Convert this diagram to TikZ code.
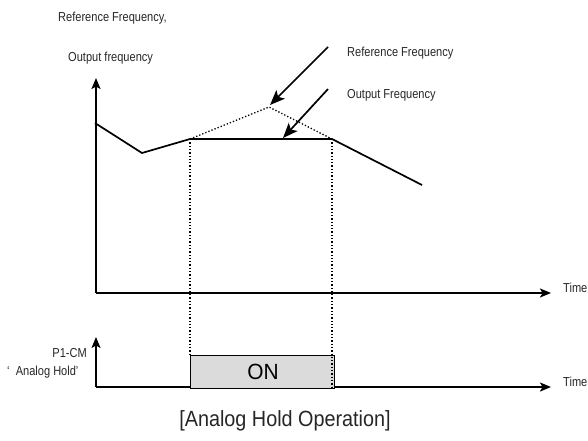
\documentclass[tikz,border=0pt]{standalone}
\usepackage{fontspec}
\setmainfont[FakeStretch=0.85]{Liberation Sans}
\newfontfamily\capfont[FakeStretch=0.9]{Liberation Sans}
\newfontfamily\onfont[FakeStretch=0.95]{Liberation Sans}
\usetikzlibrary{arrows.meta}
\begin{document}
\begin{tikzpicture}[x=1pt,y=-1pt,
  axis/.style={line width=1.7pt,-{Stealth[length=11pt,width=9pt,inset=2.5pt]}},
  curve/.style={line width=1.7pt,line join=miter},
  guide/.style={line width=1.3pt,dotted},
  pointer/.style={line width=1.7pt,-{Stealth[length=15pt,width=12pt,inset=3.5pt]}},
  lbl/.style={inner sep=0pt,font=\fontsize{13}{15}\selectfont,text=black!85},
  onbox/.style={draw=black,line width=1.2pt,fill=black!14}
]
\useasboundingbox (0,0) rectangle (588,440);

% top chart
\coordinate (o1) at (96,293);
\coordinate (ytop) at (96,78);
\coordinate (xend) at (551,293);
\draw[axis] (o1) -- (ytop);
\draw[axis] (o1) -- (xend);

\coordinate (c0) at (95,123);
\coordinate (c1) at (142,153);
\coordinate (c2) at (190,139);
\coordinate (c3) at (332,139);
\coordinate (c4) at (422,185);
\coordinate (pk) at (269,107);
\draw[guide] (c2) -- (pk) -- (c3);
\draw[curve] (c0) -- (c1) -- (c2) -- (c3) -- (c4);

% bottom chart
\coordinate (o2) at (96,387);
\coordinate (ytop2) at (96,337);
\coordinate (xend2) at (551,387);
\draw[axis] (o2) -- (ytop2);
\draw[axis] (o2) -- (xend2);
\node[onbox,minimum width=144pt,minimum height=33pt,anchor=north west,inner sep=0pt] (on) at (190,355) {};
\node[inner sep=0pt,font=\onfont\fontsize{22}{24}\selectfont] (ontxt) at (263,372) {ON};

% guides
\coordinate (g1) at (190,355);
\coordinate (g2) at (332,388);
\draw[guide] (c2) -- (g1);
\draw[guide] (c3) -- (g2);

% labels
\node[lbl,anchor=west] (l1) at (58,18) {Reference Frequency,};
\node[lbl,anchor=west] (l2) at (68,58) {Output frequency};
\node[lbl,anchor=west] (lref) at (347,53) {Reference Frequency};
\node[lbl,anchor=west] (lout) at (347,95) {Output Frequency};
\node[lbl,anchor=west] (t1) at (563,288) {Time};
\node[lbl,anchor=west] (t2) at (563,382) {Time};
\node[lbl,anchor=east] (p1) at (87,353) {P1-CM};
\node[lbl,anchor=west] (ah) at (7,372) {‘~~Analog Hold’};
\node[inner sep=0pt,font=\capfont\fontsize{22}{24}\selectfont,text=black!85] (cap) at (285,421) {[Analog Hold Operation]};

% pointers
\coordinate (r0) at (328,47);
\coordinate (r1) at (270,105);
\coordinate (s0) at (328,89);
\coordinate (s1) at (283,138);
\draw[pointer] (r0) -- (r1);
\draw[pointer] (s0) -- (s1);
\end{tikzpicture}
\end{document}
